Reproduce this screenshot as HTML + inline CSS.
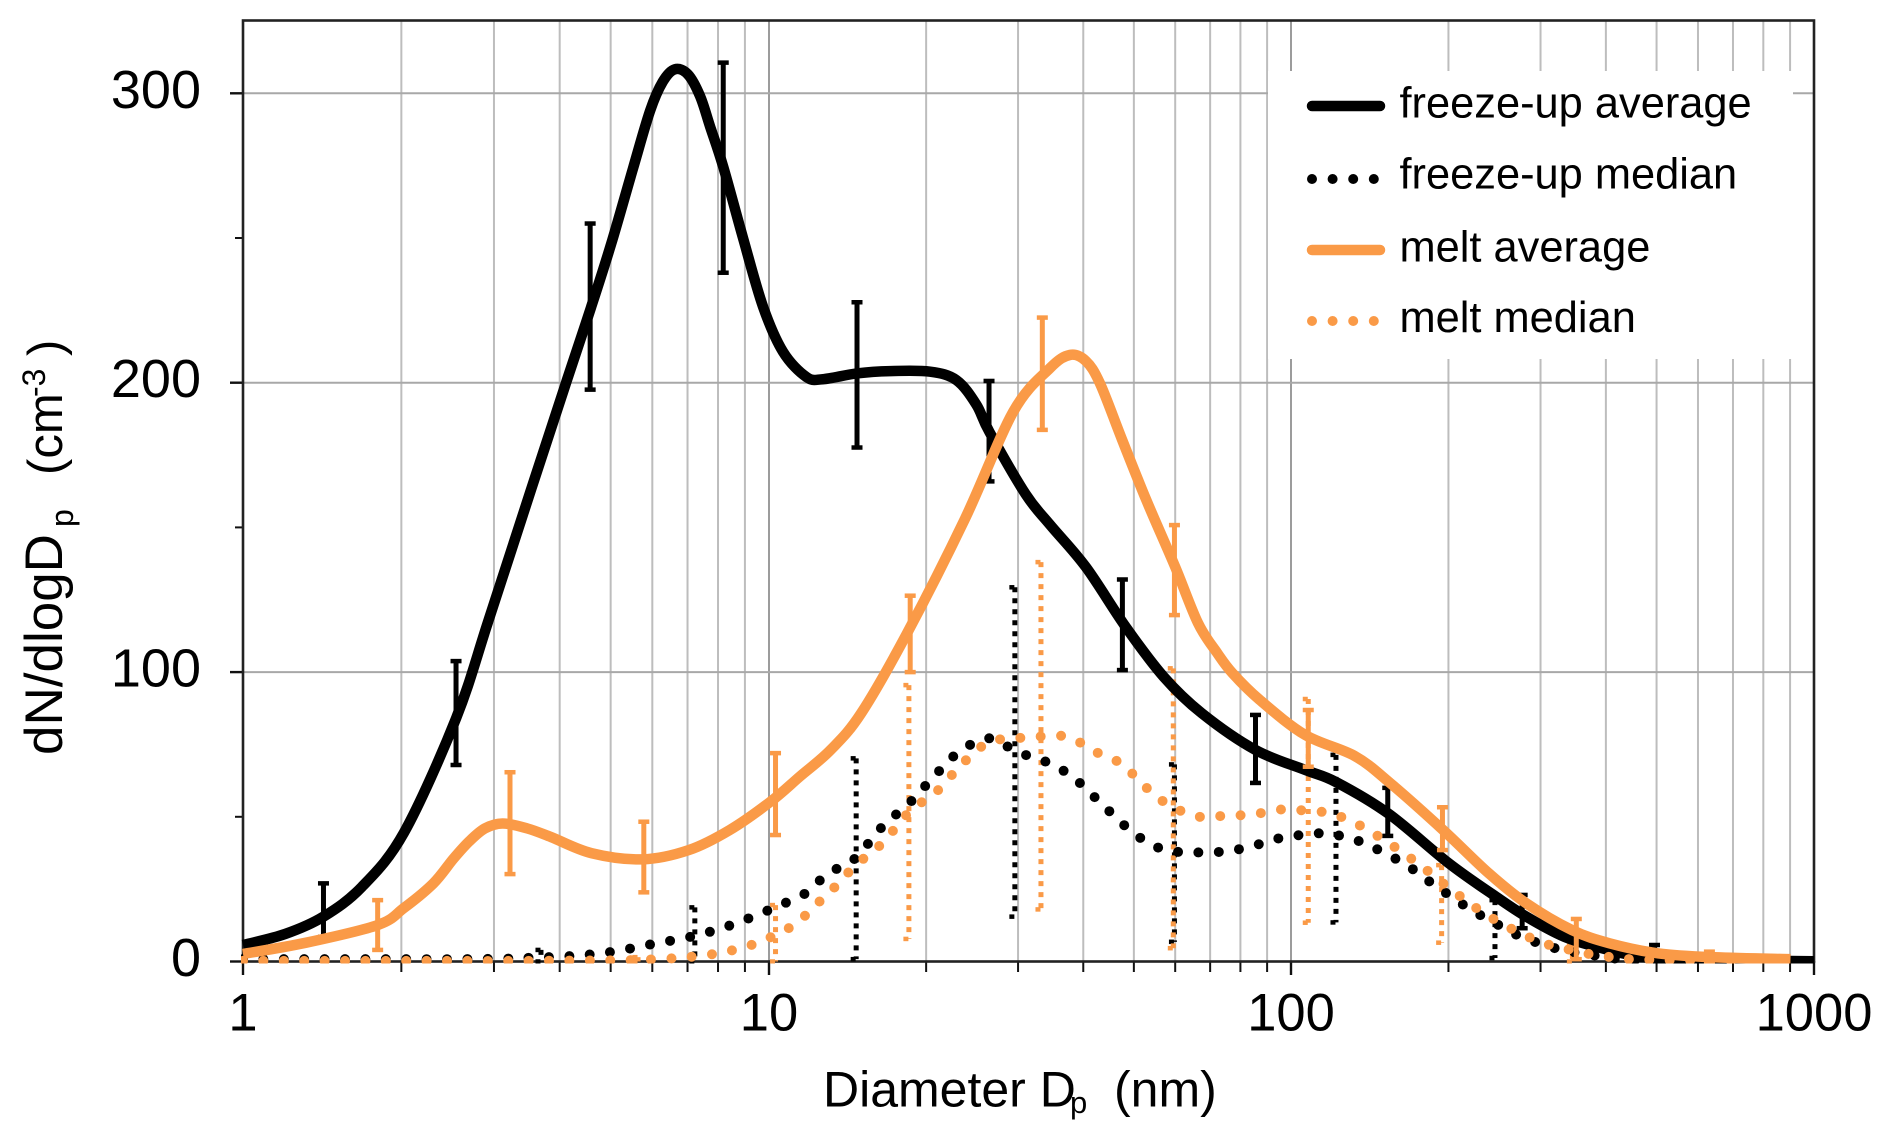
<!DOCTYPE html>
<html>
<head>
<meta charset="utf-8">
<title>Particle size distribution</title>
<style>
html,body{margin:0;padding:0;background:#fff;}
svg{display:block;}
text{font-family:"Liberation Sans",sans-serif;fill:#000;}
</style>
</head>
<body>
<svg id="chart" xmlns="http://www.w3.org/2000/svg" width="1892" height="1141" viewBox="0 0 1892 1141">
<defs><clipPath id="plot-clip"><rect x="241" y="20" width="1574" height="943.5"/></clipPath></defs>
<g id="grid"></g>
<g id="axes"></g>
<g id="legend-bg"><rect x="1268" y="71" width="525" height="288" fill="#fff"/></g>
<g id="series" clip-path="url(#plot-clip)"></g>
<g id="labels"></g>
<text font-size="50" y="1106.5"><tspan x="823">Diameter D</tspan><tspan x="1070" y="1113" font-size="31">p</tspan><tspan x="1114" y="1106.5">(nm)</tspan></text>
<g transform="translate(62,755) rotate(-90)">
<text font-size="53" x="0" y="0">dN/dlogD</text>
<text font-size="32" x="228" y="11">p</text>
<text font-size="49" x="280" y="0">(cm</text>
<text font-size="32" x="358" y="-17">-3</text>
<text font-size="49" x="399" y="0">)</text>
</g>
<g id="legend">
<g><line x1="1312" x2="1380" y1="106" y2="106" stroke="#000" stroke-width="10.5" stroke-linecap="round"/><text x="1399.5" y="117.5" font-size="43.4">freeze-up average</text></g>
<g><line x1="1312" x2="1378" y1="179" y2="179" stroke="#000" stroke-width="10" stroke-linecap="round" stroke-dasharray="0 20.6"/><text x="1399.5" y="188.5" font-size="43.4">freeze-up median</text></g>
<g><line x1="1312" x2="1380" y1="250" y2="250" stroke="#fa9a47" stroke-width="10.5" stroke-linecap="round"/><text x="1399.5" y="261.5" font-size="43.4">melt average</text></g>
<g><line x1="1312" x2="1378" y1="321" y2="321" stroke="#fa9a47" stroke-width="10" stroke-linecap="round" stroke-dasharray="0 20.6"/><text x="1399.5" y="332" font-size="43.4">melt median</text></g>
</g>
</svg>
<script>
// Axis data
const xDecades = [1, 10, 100, 1000];
const xMinorFactors = [2, 3, 4, 5, 6, 7, 8, 9];
const yMajorTicks = [0, 100, 200, 300];
const yMinorTicks = [50, 150, 250];

// Series x values are log10(diameter in nm); y values are dN/dlogDp
const fzAvgLog = [0,0.08,0.153,0.226,0.306,0.405,0.467,0.5475,0.616,0.6616,0.70,0.7414,0.774,0.798,0.821,0.846,0.869,0.888,0.913,0.9506,0.9886,1.0268,1.0715,1.103,1.168,1.2325,1.3087,1.359,1.397,1.4222,1.4916,1.538,1.607,1.683,1.756,1.829,1.932,2.027,2.086,2.187,2.302,2.392,2.45,2.522,2.594,2.666,2.738,2.85,3];
const fzAvgVal = [5.7,9.5,15.5,25.8,44.5,84,118,163,201,226,248,274,294,304,308.3,306.5,299,288.5,274.6,250,226.3,210.7,202,201.2,203.2,204,203.8,200.9,192.5,183,161.5,151,136.3,115.7,98.4,85.8,73.1,66.2,62,51,33.9,22.4,15.5,8.6,4.6,1.7,0.9,0.4,0.1];

const meltAvgLog = [0,0.12,0.256,0.306,0.362,0.40,0.43,0.46,0.4935,0.54,0.5856,0.663,0.76,0.8475,0.925,1.0027,1.059,1.118,1.1766,1.2644,1.3755,1.468,1.538,1.5766,1.607,1.634,1.676,1.7227,1.778,1.822,1.859,1.888,1.94,2.027,2.122,2.19,2.291,2.378,2.45,2.537,2.609,2.703,2.811,2.955];
const meltAvgVal = [2.6,6.5,12.6,18.5,27,35.5,41.5,46,47.7,46,43,37.4,35.3,38.5,45.4,55.2,63.9,73.1,85.8,113.4,153,190,205,209.6,207.5,199.8,180.5,159.5,136.4,116.9,106.5,99.6,90.4,78.3,71,61.6,45.4,30.5,20.1,10.9,6.3,2.8,1.45,0.8];

const fzMedLog = [0,0.1,0.2,0.3,0.4,0.5,0.547,0.624,0.70,0.7776,0.857,0.928,1.0,1.037,1.07,1.10,1.133,1.167,1.192,1.217,1.246,1.276,1.302,1.329,1.356,1.39,1.4256,1.46,1.4956,1.532,1.567,1.598,1.626,1.654,1.683,1.714,1.748,1.787,1.825,1.865,1.903,1.942,1.98,2.018,2.056,2.095,2.133,2.168,2.204,2.237,2.268,2.30,2.332,2.366,2.40,2.435,2.471,2.509,2.547,2.587,2.628,2.7,2.8,2.94];
const fzMedVal = [0.8,0.8,0.8,0.8,0.8,1,1.3,1.9,3.3,6,8.8,12.6,17.8,20.7,23.6,28.4,32.4,35.9,41.2,46.6,51.2,56,61.2,66.4,71.3,75.3,77.1,74,71.1,68.9,65.6,61.3,56.4,51.6,46.7,42.4,39.2,37.8,37.7,37.9,38.9,40.7,42.7,43.7,44.3,43.4,41.4,38.5,35.1,31.4,27.2,23.2,19.3,15.6,12.3,8.9,6.5,4.4,3,1.9,0.9,0.4,0.2,0.2];

const meltMedLog = [0,0.1,0.2,0.3,0.4,0.5,0.6,0.7,0.76,0.818,0.855,0.895,0.933,0.971,1.008,1.042,1.072,1.10,1.128,1.155,1.184,1.214,1.24,1.266,1.296,1.327,1.353,1.38,1.41,1.446,1.485,1.524,1.564,1.6,1.633,1.67,1.699,1.727,1.757,1.791,1.829,1.869,1.908,1.947,1.986,2.024,2.063,2.1,2.136,2.17,2.202,2.234,2.265,2.295,2.326,2.358,2.391,2.426,2.46,2.498,2.535,2.573,2.612,2.65,2.75,2.955];
const meltMedVal = [0.2,0.2,0.2,0.2,0.2,0.2,0.3,0.4,0.6,1.1,1.7,2.6,4,6,8.8,12,16.3,21.3,26.1,31.3,36,40.4,45.7,51.2,55.5,59.7,65,70,74.6,76.9,77.3,77.8,77.9,75.3,71.8,68.9,64.4,59.4,55.1,51.9,49.9,50.3,50.6,51.4,52.6,52.2,51.6,49.7,46.6,42.9,39.1,35,30.8,26.4,22.2,18,14.3,10.9,8,5.5,4,2.5,1.5,0.8,0.4,0.2];

// Error bars: position, upper value, lower value
const fzAvgErrLog = [0.153,0.405,0.66,0.913,1.1686,1.4215,1.677,1.932,2.185,2.442,2.695];
const fzAvgErrHi = [27,103.8,255,310.6,227.8,200.6,132,85.2,60,23,5.7];
const fzAvgErrLo = [8.5,67.9,197.6,238,177.6,165.9,100.7,61.7,43.4,11.5,0];

const meltAvgErrLog = [0.256,0.5076,0.762,1.0125,1.2705,1.5236,1.7767,2.033,2.2896,2.5455,2.8];
const meltAvgErrHi = [21.2,65.4,48.3,72,126.4,222.5,150.8,86.9,53.3,14.7,3.4];
const meltAvgErrLo = [4,30.2,23.9,43.7,100,183.7,119.7,67.3,38.5,0.8,0];

const fzMedErrLog = [0.5665,0.859,1.167,1.471,1.7767,2.086,2.39];
const fzMedErrHi = [4,18.7,70.2,129.3,68.1,71.4,21.2];
const fzMedErrLo = [0,0,0.8,15.5,6.8,13.5,1.2];

const meltMedErrLog = [0.751,1.0125,1.268,1.521,1.7745,2.033,2.288,2.538];
const meltMedErrHi = [1.5,19.5,95.5,138,101.3,90.7,33.3,6.4];
const meltMedErrLo = [0,0,7.8,18,4.6,13.4,6.5,0];

const BLACK = '#000';
const ORANGE = '#fa9a47';
const NS = 'http://www.w3.org/2000/svg';

// Axis functions
function xLog(l) {
  if (l <= 1) return 243 + 526 * l;
  if (l <= 2) return 769 + 522 * (l - 1);
  return 1291 + 523 * (l - 2);
}
function yVal(v) { return 961.5 - 2.894 * v; }

function make(tag, attrs, parent) {
  const el = document.createElementNS(NS, tag);
  for (const k in attrs) el.setAttribute(k, attrs[k]);
  parent.appendChild(el);
  return el;
}

const gridG = document.getElementById('grid');
const axesG = document.getElementById('axes');
const labelsG = document.getElementById('labels');
const seriesG = document.getElementById('series');

// Vertical gridlines and x ticks
xDecades.forEach(function (d, i) {
  const lg = Math.log10(d);
  const x = xLog(lg);
  if (i > 0 && i < xDecades.length - 1) {
    const gl = make('line', {x1: x, x2: x, y1: 21, y2: 961, stroke: '#9c9c9c', 'stroke-width': 2}, gridG);
    
    
  }
  const tk = make('line', {x1: x, x2: x, y1: 961, y2: 975, stroke: '#111', 'stroke-width': 2.4}, axesG);
  
  
  const lb = make('text', {x: x, y: 1030.5, 'font-size': 52.5, 'text-anchor': 'middle'}, labelsG);
  
  
  lb.textContent = String(d);
  if (i < xDecades.length - 1) {
    xMinorFactors.forEach(function (f) {
      const mx = xLog(lg + Math.log10(f));
      const mg = make('line', {x1: mx, x2: mx, y1: 21, y2: 961, stroke: '#bdbdbd', 'stroke-width': 2}, gridG);
      
      
      const mt = make('line', {x1: mx, x2: mx, y1: 961, y2: 972, stroke: '#111', 'stroke-width': 2}, axesG);
      
      
    });
  }
});

// Horizontal gridlines and y ticks
yMajorTicks.forEach(function (v) {
  const y = yVal(v);
  if (v > 0) {
    const gl = make('line', {x1: 243, x2: 1814, y1: y, y2: y, stroke: '#a8a8a8', 'stroke-width': 2}, gridG);
    
    
  }
  const tk = make('line', {x1: 230, x2: 243, y1: y, y2: y, stroke: '#111', 'stroke-width': 2.4}, axesG);
  
  
  const lb = make('text', {x: 201, y: y + 14.5, 'font-size': 54, 'text-anchor': 'end'}, labelsG);
  
  
  lb.textContent = String(v);
});
yMinorTicks.forEach(function (v) {
  const y = yVal(v);
  const tk = make('line', {x1: 235, x2: 243, y1: y, y2: y, stroke: '#111', 'stroke-width': 2}, axesG);
  
  
});

// Plot frame
const frame = make('rect', {x: 243, y: 20.5, width: 1571, height: 941, fill: 'none', stroke: '#222', 'stroke-width': 2.6}, axesG);



// Smooth path through data points (Catmull-Rom)
function smoothPath(logs, vals) {
  const p = logs.map(function (l, i) { return [xLog(l), yVal(vals[i])]; });
  let d = 'M' + p[0][0].toFixed(2) + ' ' + p[0][1].toFixed(2);
  for (let i = 0; i < p.length - 1; i++) {
    const a = p[Math.max(i - 1, 0)], b = p[i], c = p[i + 1], e = p[Math.min(i + 2, p.length - 1)];
    const c1x = b[0] + (c[0] - a[0]) / 6, c1y = b[1] + (c[1] - a[1]) / 6;
    const c2x = c[0] - (e[0] - b[0]) / 6, c2y = c[1] - (e[1] - b[1]) / 6;
    d += 'C' + c1x.toFixed(2) + ' ' + c1y.toFixed(2) + ' ' + c2x.toFixed(2) + ' ' + c2y.toFixed(2) + ' ' + c[0].toFixed(2) + ' ' + c[1].toFixed(2);
  }
  return d;
}

function drawErrorBars(logs, hi, lo, color, dotted, name) {
  const dash = dotted ? {'stroke-dasharray': '5 6'} : {};
  logs.forEach(function (l, i) {
    const x = xLog(l), yh = yVal(hi[i]), yl = yVal(lo[i]);
    const g = make('g', {stroke: color, fill: 'none'}, seriesG);
    
    
    make('line', Object.assign({x1: x, x2: x, y1: yh, y2: yl, 'stroke-width': 5}, dash), g);
    make('line', Object.assign({x1: x - 5.5, x2: x + 5.5, y1: yh, y2: yh, 'stroke-width': 4.5}, dash), g);
    make('line', Object.assign({x1: x - 5.5, x2: x + 5.5, y1: yl, y2: yl, 'stroke-width': 4.5}, dash), g);
  });
}

// Draw series, back to front
drawErrorBars(fzMedErrLog, fzMedErrHi, fzMedErrLo, BLACK, true, 'freeze-up-median-error-bar');
drawErrorBars(meltMedErrLog, meltMedErrHi, meltMedErrLo, ORANGE, true, 'melt-median-error-bar');
drawErrorBars(fzAvgErrLog, fzAvgErrHi, fzAvgErrLo, BLACK, false, 'freeze-up-average-error-bar');

const fzAvgPath = make('path', {d: smoothPath(fzAvgLog, fzAvgVal), fill: 'none', stroke: BLACK, 'stroke-width': 10.5, 'stroke-linejoin': 'round'}, seriesG);



const fzMedPath = make('path', {d: smoothPath(fzMedLog, fzMedVal), fill: 'none', stroke: BLACK, 'stroke-width': 10, 'stroke-linecap': 'round', 'stroke-dasharray': '0 20.4'}, seriesG);



const meltMedPath = make('path', {d: smoothPath(meltMedLog, meltMedVal), fill: 'none', stroke: ORANGE, 'stroke-width': 10, 'stroke-linecap': 'round', 'stroke-dasharray': '0 20.4'}, seriesG);



drawErrorBars(meltAvgErrLog, meltAvgErrHi, meltAvgErrLo, ORANGE, false, 'melt-average-error-bar');

const meltAvgPath = make('path', {d: smoothPath(meltAvgLog, meltAvgVal), fill: 'none', stroke: ORANGE, 'stroke-width': 10.5, 'stroke-linejoin': 'round'}, seriesG);


</script>
</body>
</html>
